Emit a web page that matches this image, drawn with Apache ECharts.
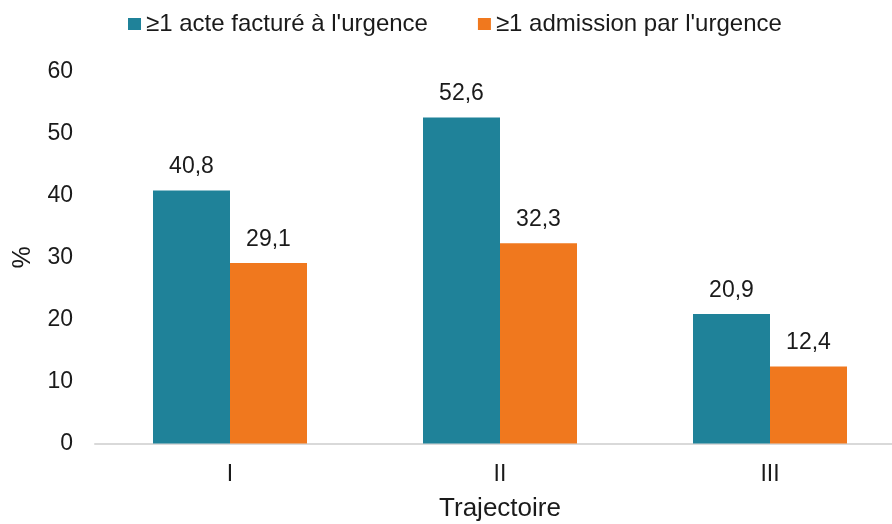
<!DOCTYPE html>
<html><head><meta charset="utf-8">
<script src="https://cdn.jsdelivr.net/npm/echarts@6/dist/echarts.min.js"></script>
<style>html,body{margin:0;padding:0;background:#fff}#c{width:892px;height:524px}</style>
</head><body><div id="c"></div>
<script>
const categories = ['I', 'II', 'III'];
const seriesNames = ['≥1 acte facturé à l\'urgence', '≥1 admission par l\'urgence'];
const acteValues = [40.8, 52.6, 20.9];
const admissionValues = [29.1, 32.3, 12.4];
const yTicks = [0, 10, 20, 30, 40, 50, 60];

const font = 'Liberation Sans, Arial, sans-serif';
const chart = echarts.init(document.getElementById('c'));
const labelCfg = {
  show: true, position: 'top', distance: 12, color: '#1a1a1a', fontSize: 23, fontFamily: font,
  formatter: p => String(p.value).replace('.', ',')
};
chart.setOption({
  animation: false,
  legend: {
    top: 7, left: 123, itemWidth: 13, itemHeight: 12, itemGap: 50,
    icon: 'rect',
    textStyle: { fontSize: 24, color: '#1a1a1a', fontFamily: font },
    data: seriesNames
  },
  grid: { left: 95, right: -13, top: 71.5, bottom: 80.5, containLabel: false, outerBoundsMode: 'none' },
  xAxis: {
    type: 'category', data: categories,
    name: 'Trajectoire', nameLocation: 'middle', nameGap: 52,
    nameTextStyle: { fontSize: 26, color: '#1a1a1a', fontFamily: font },
    axisLine: { lineStyle: { color: '#d9d9d9', width: 2 } },
    axisTick: { show: false },
    axisLabel: { fontSize: 23, color: '#1a1a1a', margin: 20, fontFamily: font }
  },
  yAxis: {
    type: 'value', min: yTicks[0], max: yTicks[yTicks.length - 1], interval: 10,
    name: '%', nameLocation: 'middle', nameGap: 59, nameRotate: 90,
    nameTextStyle: { fontSize: 25, color: '#1a1a1a', fontFamily: font },
    splitLine: { show: false }, axisLine: { show: false }, axisTick: { show: false },
    axisLabel: { fontSize: 23, color: '#1a1a1a', margin: 22, fontFamily: font }
  },
  series: [
    { name: seriesNames[0], type: 'bar', data: acteValues, barWidth: 77, barGap: '0%',
      itemStyle: { color: '#1F8299' }, label: labelCfg },
    { name: seriesNames[1], type: 'bar', data: admissionValues, barWidth: 77, barGap: '0%',
      itemStyle: { color: '#F0781E' }, label: labelCfg }
  ]
});
</script></body></html>
